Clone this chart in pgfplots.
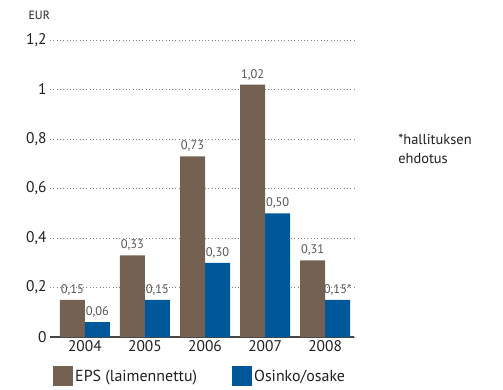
\documentclass[border=0pt]{standalone}
\usepackage{fontspec}
\setmainfont{PT Sans}
\usepackage{pgfplots}
\pgfplotsset{compat=1.18}
\definecolor{eps}{RGB}{116,97,81}
\definecolor{osinko}{RGB}{0,87,154}
\definecolor{gridc}{RGB}{150,125,110}
\definecolor{axc}{RGB}{70,70,70}
\definecolor{txt}{RGB}{35,31,32}
\definecolor{lab}{RGB}{85,85,85}
\pgfplotsset{sqleg/.style={legend image code/.code={\fill[##1] (0bp,-10bp) rectangle (20bp,10bp);}}}
\begin{document}
\begin{tikzpicture}
\begin{axis}[
  at={(0,0)}, anchor=south west,
  scale only axis, width=304bp, height=297bp,
  xmin=-0.58, xmax=4.48, ymin=0, ymax=1.2,
  ybar=0pt, bar width=25bp,
  xtick={0,1,2,3,4}, xticklabels={2004,2005,2006,2007,2008},
  ytick={0,0.2,0.4,0.6,0.8,1,1.2},
  /pgf/number format/use comma,
  /pgf/number format/fixed,
  /pgf/number format/assume math mode=true,
  ymajorgrids,
  grid style={gridc, line width=0.9bp, dash pattern=on 0.9bp off 2.4bp},
  major tick length=0pt,
  axis lines*=left,
  y axis line style={draw=none},
  x axis line style={axc, line width=1.3bp},
  tick label style={font=\fontsize{15.5}{17}\selectfont, color=txt},
  nodes near coords,
  point meta=explicit symbolic,
  nodes near coords style={font=\fontsize{12.5}{14}\selectfont, color=lab, yshift=1bp},
  clip=false,
  legend columns=2,
  legend style={draw=none, fill=none, at={(0.01,-0.098)}, anchor=north west,
    inner sep=0pt, font=\fontsize{16}{18}\selectfont, text=txt,
    /tikz/every even column/.append style={column sep=33bp}},
]
\addplot[fill=eps, draw=none, sqleg] table[x=x, y=y, meta=l] {
x y l
0 0.15 0,15
1 0.33 0,33
2 0.73 0,73
3 1.02 1,02
4 0.31 0,31
};
\addlegendentry{EPS (laimennettu)}
\addplot[fill=osinko, draw=none, sqleg] table[x=x, y=y, meta=l] {
x y l
0 0.06 0,06
1 0.15 0,15
2 0.30 0,30
3 0.50 0,50
4 0.15 0,15*
};
\addlegendentry{Osinko/osake}
\node[anchor=west, font=\fontsize{12}{14}\selectfont, text=txt] at (axis description cs:-0.082,1.084) {EUR};
\node[anchor=north west, align=left, font=\fontsize{14.5}{19}\selectfont, text=txt, inner sep=0pt] at (axis description cs:1.145,0.683) {*hallituksen\\ehdotus};
\end{axis}
\pgfresetboundingbox
\path (-50bp,-53bp) rectangle (453bp,337bp);
\end{tikzpicture}
\end{document}
